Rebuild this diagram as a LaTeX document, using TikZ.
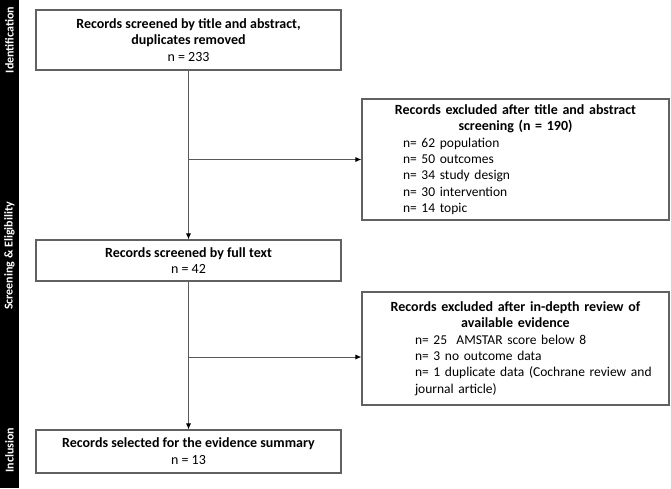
\documentclass[tikz,border=0pt]{standalone}
\usepackage{fontspec}
\setmainfont{Carlito}
\usetikzlibrary{arrows.meta}

\definecolor{boxgray}{rgb}{0.38,0.38,0.38}
\definecolor{linegray}{rgb}{0.35,0.35,0.35}

% heading and indented list inside the exclusion boxes
\newcommand{\boxhead}[1]{{\centering\bfseries #1\par}}
\newcommand{\boxlist}[2]{{\leftskip=#1 \fontsize{13.5}{16.3}\selectfont #2\par}}

\begin{document}
\begin{tikzpicture}[x=1pt, y=-1pt,
    box/.style={draw=boxgray, line width=1.1pt, inner sep=0pt, align=center,
      minimum width=305pt, font=\fontsize{14}{16.8}\selectfont},
    exbox/.style={draw=boxgray, line width=1.1pt, inner xsep=4pt, inner ysep=0pt,
      text width=299pt, minimum width=307pt, font=\fontsize{14}{16.5}\selectfont},
    link/.style={draw=linegray, line width=0.9pt},
    arr/.style={link, -{Latex[length=6pt,width=5pt,color=black]}},
    phase/.style={text=white, rotate=90, font=\fontsize{12}{13}\selectfont\bfseries}]
    \useasboundingbox (0,0) rectangle (671,488);

    % draw phase bar
    \fill[black] (0,0) rectangle (18.5,488);
    \node[phase] (ident) at (9.5,40) {Identification};
    \node[phase] (screen) at (9.5,256) {Screening \& Eligibility};
    \node[phase] (incl) at (9.5,450) {Inclusion};

    % draw main boxes
    \node[box, minimum height=60pt] (rec) at (188.5,40)
      {\textbf{Records screened by title and abstract,}\\\textbf{duplicates removed}\\n = 233};
    \node[box, minimum height=41pt] (full) at (188.5,260.5)
      {\textbf{Records screened by full text}\\n = 42};
    \node[box, minimum height=43pt] (sel) at (188.5,451.5)
      {\textbf{Records selected for the evidence summary}\\n = 13};

    % draw exclusion boxes
    \node[exbox, minimum height=121pt] (exa) at (515.5,159.5)
      {\boxhead{Records excluded after title and abstract\\screening (n = 190)}%
       \boxlist{37pt}{n= 62 population\\n= 50 outcomes\\n= 34 study design\\n= 30 intervention\\n= 14 topic}};
    \node[exbox, minimum height=113pt] (exb) at (515.5,348.5)
      {\boxhead{Records excluded after in-depth review of\\available evidence}%
       \boxlist{49pt}{n= 25~ AMSTAR score below 8\\n= 3 no outcome data\\n= 1 duplicate data (Cochrane review and\\journal article)}};

    % draw connectors
    \coordinate (splita) at (rec.south |- exa.west);
    \coordinate (splitb) at (188.5,357);
    \draw[arr] (rec.south) -- (full.north);
    \draw[arr] (splita) -- (exa.west);
    \draw[arr] (full.south) -- (sel.north);
    \draw[arr] (splitb) -- (splitb -| exb.west);
\end{tikzpicture}
\end{document}
